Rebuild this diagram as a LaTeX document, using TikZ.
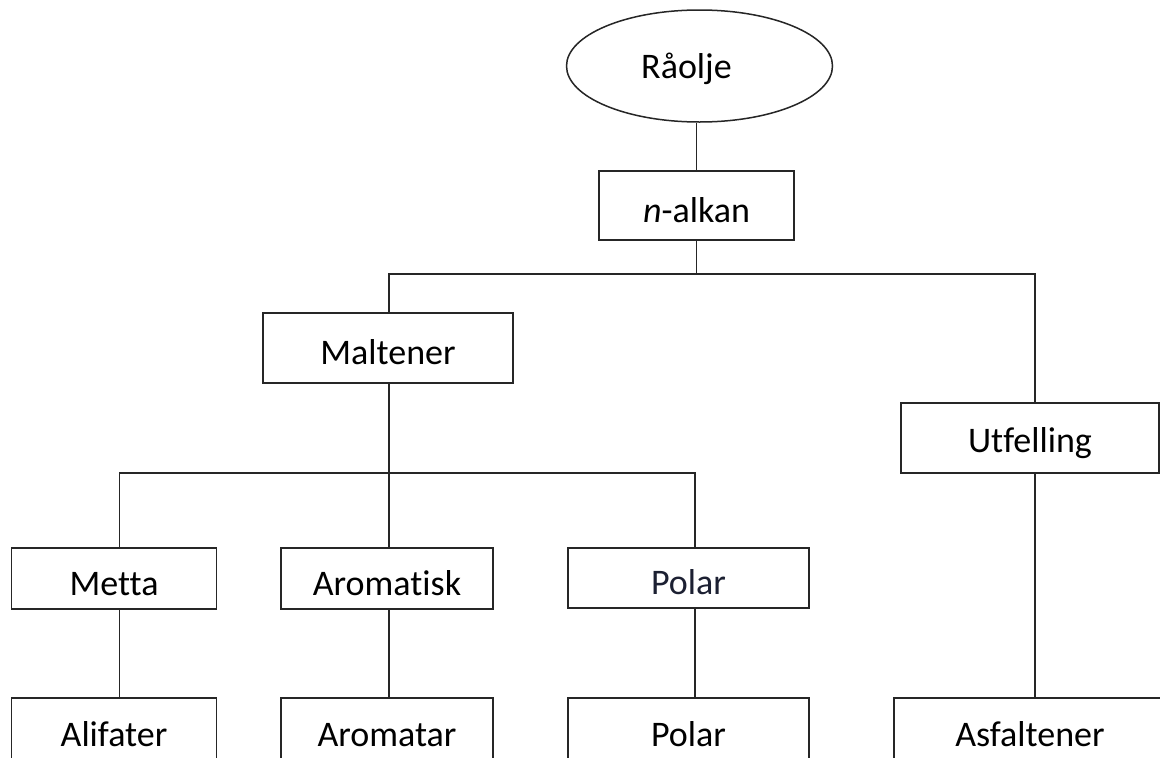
\documentclass[tikz,border=0pt]{standalone}
\usepackage{fontspec}
\setmainfont{Carlito}[Ligatures={NoCommon}]
\usetikzlibrary{shapes.geometric}
\definecolor{linec}{RGB}{38,38,38}
\definecolor{polarc}{RGB}{28,32,50}
\tikzset{
  conn/.style={draw=linec, line width=1.5pt},
  boxnode/.style={draw=linec, line width=1.5pt, rectangle, inner sep=0pt,
    font=\fontsize{36}{43}\selectfont, text height=33pt, text depth=0pt},
  ellnode/.style={draw=linec, line width=1.5pt, ellipse, inner sep=0pt,
    font=\fontsize{36}{43}\selectfont, text height=25pt, text depth=0pt}
}
\begin{document}
\begin{tikzpicture}[x=1pt,y=-1pt]
\useasboundingbox (0,0) rectangle (1160,758);
\fill[white] (0,0) rectangle (1160,758);
\begin{scope}
\clip (0,0) rectangle (1160,758);
% nodes
\node[ellnode, minimum width=266pt, minimum height=112pt] (ral) at (699.5,66) {Råolje\kern26pt};
\node[boxnode, minimum width=195pt, minimum height=69pt] (nalk) at (696.5,205.5) {\textit{n}-alkan};
\node[boxnode, minimum width=250pt, minimum height=70pt] (malt) at (388,348) {Maltener};
\node[boxnode, minimum width=258pt, minimum height=70pt, text height=29pt] (utf) at (1030,438) {Utfelling};
\node[boxnode, minimum width=205pt, minimum height=61pt] (metta) at (114,578.5) {Metta};
\node[boxnode, minimum width=212pt, minimum height=61pt] (arom) at (387,578.5) {Aromatisk};
\node[boxnode, minimum width=241pt, minimum height=60pt, text=polarc] (pol1) at (688.5,578) {Polar};
\node[boxnode, minimum width=205pt, minimum height=64pt] (alif) at (114,730) {Alifater};
\node[boxnode, minimum width=212pt, minimum height=64pt] (aromr) at (387,730) {Aromatar};
\node[boxnode, minimum width=241pt, minimum height=64pt] (pol2) at (688.5,730) {Polar};
\node[boxnode, minimum width=272pt, minimum height=64pt] (asf) at (1030,730) {Asfaltener};
% junctions
\coordinate (j1) at (696.5,274);
\coordinate (j2) at (389,473);
% connectors
\draw[conn] (nalk.north) -- (nalk.north |- ral.south);
\draw[conn] (nalk.south) -- (j1);
\draw[conn] ([xshift=1pt]malt.north) |- (j1) -| ([xshift=5pt]utf.north);
\draw[conn] ([xshift=1pt]malt.south) -- (j2);
\draw[conn] ([xshift=5.4pt]metta.north) |- (j2) -| ([xshift=6.5pt]pol1.north);
\draw[conn] ([xshift=2pt]arom.north) -- (j2);
\draw[conn] ([xshift=5.4pt]metta.south) -- ([xshift=5.4pt]alif.north);
\draw[conn] ([xshift=2pt]arom.south) -- ([xshift=2pt]aromr.north);
\draw[conn] ([xshift=6.5pt]pol1.south) -- ([xshift=6.5pt]pol2.north);
\draw[conn] ([xshift=5pt]utf.south) -- ([xshift=5pt]asf.north);
\end{scope}
\end{tikzpicture}
\end{document}
